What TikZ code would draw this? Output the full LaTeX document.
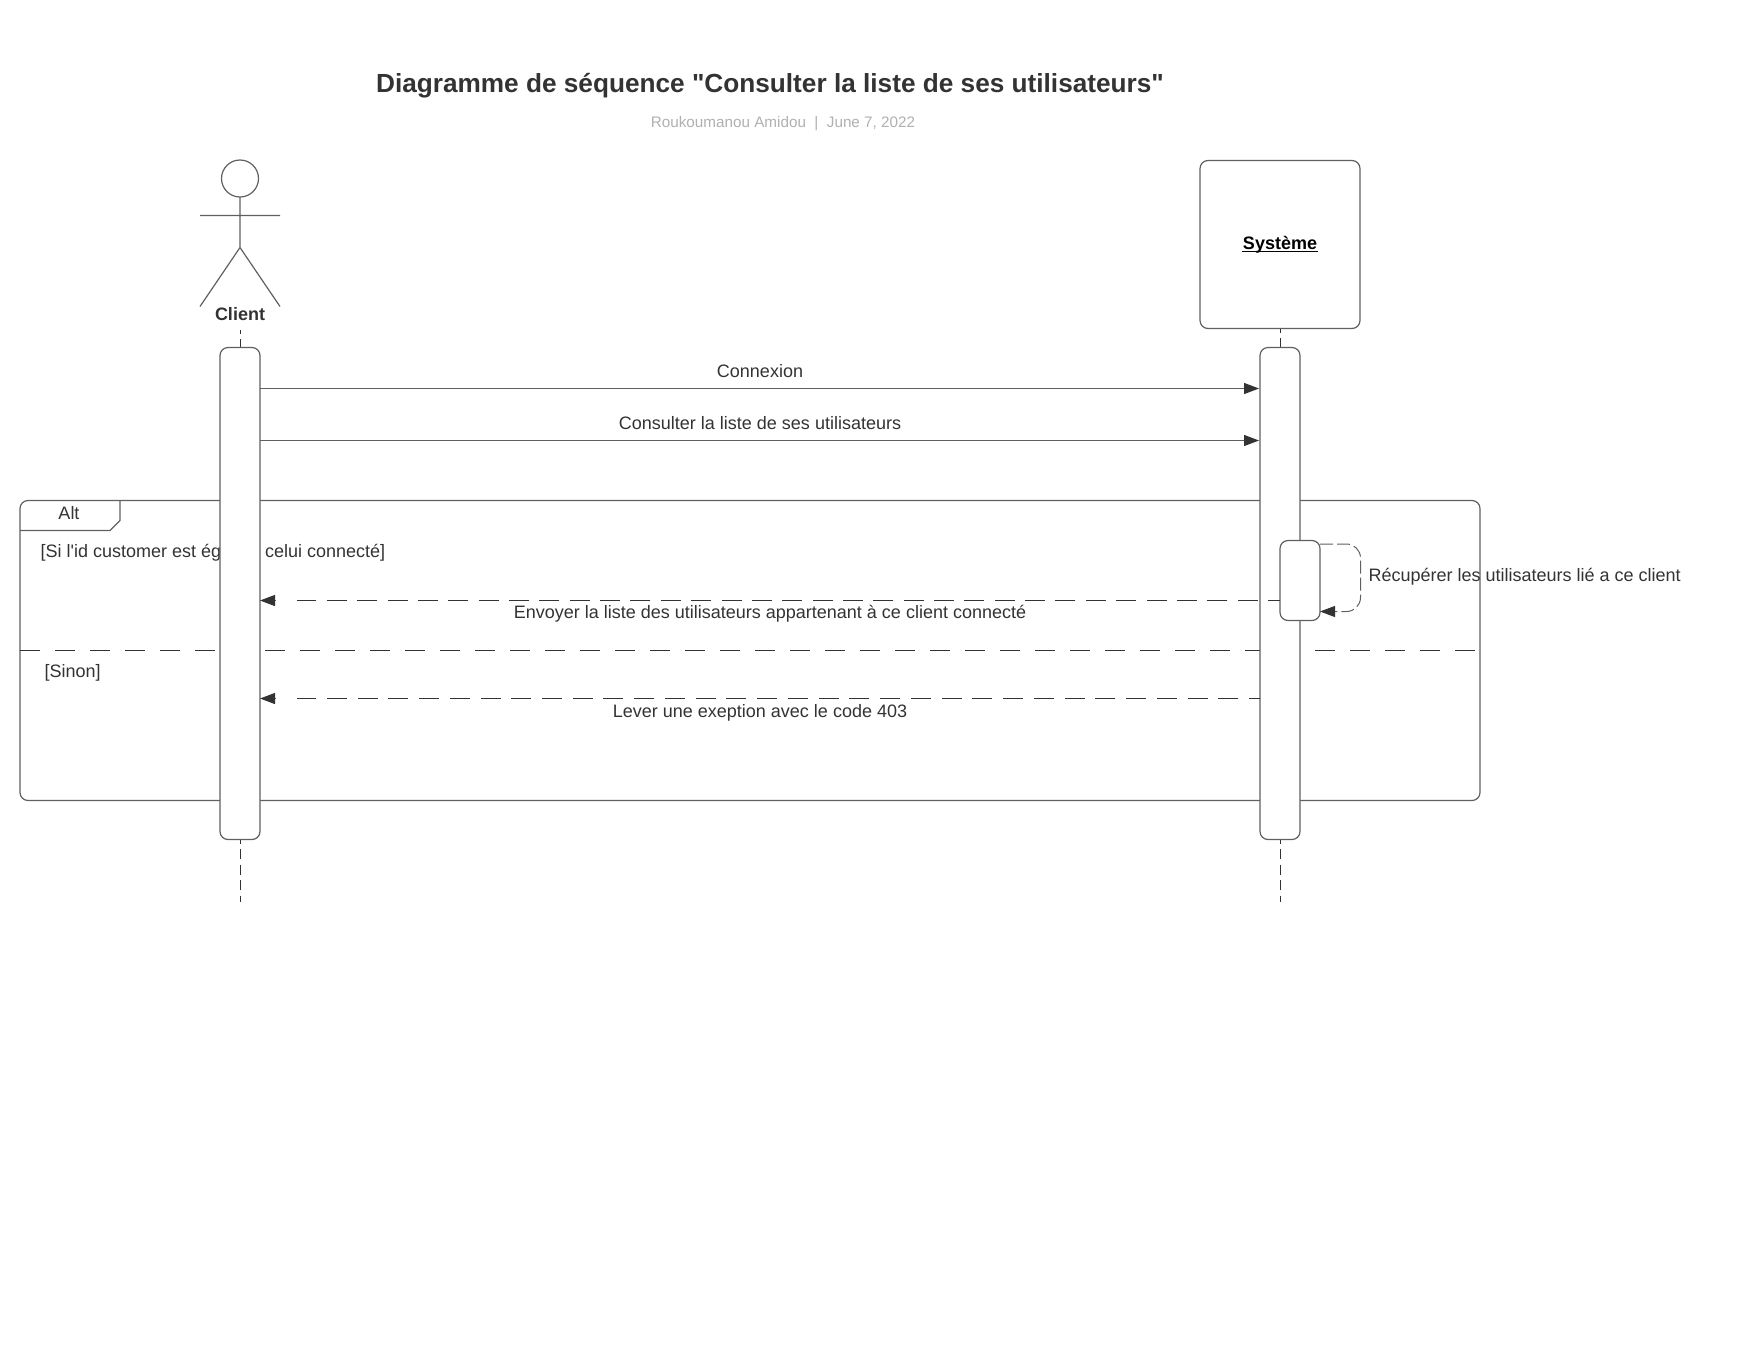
\documentclass[tikz,border=0pt]{standalone}
\usepackage{fontspec}
\newfontfamily\diagramfont{Liberation Sans}
\usetikzlibrary{arrows.meta,positioning}
\definecolor{linegrey}{HTML}{606060}
\definecolor{inkgrey}{HTML}{333333}
\definecolor{metagrey}{HTML}{B0B0B0}

\begin{document}
\begin{tikzpicture}[x=1pt,y=-1pt,>={Triangle[length=15pt,width=11pt,fill=inkgrey,color=inkgrey]},line width=1.2pt,
    every node/.style={text=inkgrey,inner sep=0pt},
    shape line/.style={draw=linegrey},
    life bar/.style={shape line,fill=white,rounded corners=8pt,minimum width=40pt,outer sep=0pt},
    life line/.style={inkgrey,line width=1pt,dash pattern=on 10pt off 5.5pt,dash phase=6pt},
    msg line/.style={->,draw=linegrey},
    back line/.style={inkgrey,line width=1pt},
    msg label/.style={font=\diagramfont\fontsize{18pt}{21pt}\selectfont},
    name label/.style={font=\diagramfont\fontsize{18pt}{21pt}\selectfont\bfseries}]

    \useasboundingbox (0,-0.5) rectangle (1760,1359.5);

    \node[font=\diagramfont\fontsize{26.2pt}{30pt}\selectfont\bfseries] (title) at (770,85) {Diagramme de séquence "Consulter la liste de ses utilisateurs"};
    \node[font=\diagramfont\fontsize{15.25pt}{18pt}\selectfont,text=metagrey] (meta) at (783,123) {Roukoumanou Amidou~~|~~June 7, 2022};

    % alt frame
    \draw[shape line,rounded corners=8pt] (20,500) rectangle (1480,800);
    \draw[shape line] (20,530) -- (110,530) -- (120,520) -- (120,500);
    \draw[inkgrey,line width=1pt,dash pattern=on 20pt off 15pt] (20,650) -- (1480,650);
    \node[msg label] (alt) at (69,513) {Alt};
    \node[msg label,anchor=west] (ifcase) at (40,552) {[Si l'id customer est égale à celui connecté]};
    \node[msg label,anchor=west] (elsecase) at (44,672) {[Sinon]};

    % client
    \node[circle,shape line,minimum size=37pt,outer sep=0pt] (head) at (240,178) {};
    \coordinate (hip) at (240,247);
    \draw[shape line] (head) -- (hip) (200,215) -- (280,215) (200,306) -- (hip) -- (280,306);
    \node[name label] (client) at (240,314) {Client};

    % system
    \node[shape line,fill=white,rounded corners=8pt,minimum width=160pt,minimum height=168pt,outer sep=0pt] (system) at (1280,244) {};
    \node[name label,text=black] (systemname) at (1280,244) {Système};
    \draw[black,line width=1.6pt] ([yshift=-2.2pt]systemname.base west) -- ([yshift=-2.2pt]systemname.base east);

    \coordinate (clienttop) at (240,329);
    \coordinate (clientend) at (240,901);
    \coordinate (systemend) at (1280,901);

    \draw[life line] (clienttop) -- (240,347);
    \draw[life line] (system.south) -- (1280,347);
    \draw[life line] (240,839) -- (clientend);
    \draw[life line] (1280,839) -- (systemend);
    \node[life bar,minimum height=492pt] (clientbar) at (240,593) {};
    \node[life bar,minimum height=492pt] (systembar) at (1280,593) {};

    \node[life bar,minimum height=80pt] (innerbar) at (1300,580) {};

    % messages
    \draw[msg line,shorten >=1pt] (clientbar.east |- 0,388) -- node[msg label,above=10pt] (m1) {Connexion} (systembar.west |- 0,388);
    \draw[msg line,shorten >=1pt] (clientbar.east |- 0,440) -- node[msg label,above=10pt] (m2) {Consulter la liste de ses utilisateurs} (systembar.west |- 0,440);

    \coordinate (m3end) at (297,600);
    \coordinate (m3tip) at (275,600);
    \draw[back line,dash pattern=on 20pt off 10.36pt,dash phase=8pt] (innerbar.west |- 0,600) -- (m3end);
    \draw[msg line] (m3tip) -- (clientbar.east |- 0,600);
    \node[msg label] (m3) at (770,613) {Envoyer la liste des utilisateurs appartenant à ce client connecté};

    \coordinate (m4end) at (297,698);
    \coordinate (m4tip) at (275,698);
    \draw[back line,dash pattern=on 20pt off 10.74pt,dash phase=9pt] (systembar.west |- 0,698) -- (m4end);
    \draw[msg line] (m4tip) -- (clientbar.east |- 0,698);
    \node[msg label] (m4) at (760,712) {Lever une exeption avec le code 403};

    % self call
    \draw[msg line,line width=1pt,rounded corners=14pt,dash pattern=on 13pt off 4pt] (innerbar.east |- 0,543.5) -- (1360.5,543.5) -- (1360.5,611) -- (innerbar.east |- 0,611);
    \node[msg label,anchor=west] (m5) at (1368,576) {Récupérer les utilisateurs lié a ce client};
\end{tikzpicture}
\end{document}
